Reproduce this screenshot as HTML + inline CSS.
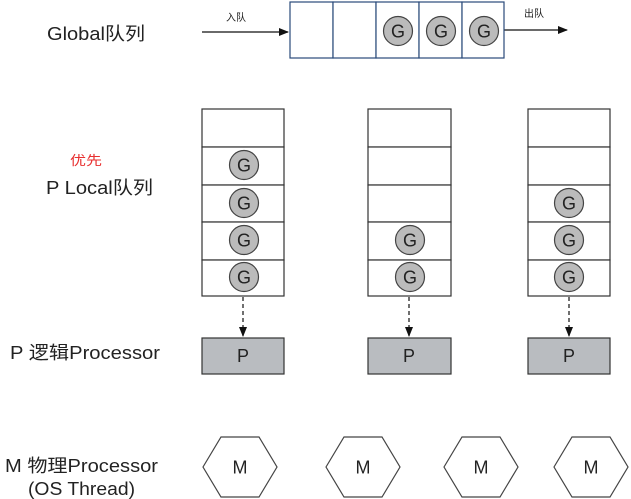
<!DOCTYPE html>
<html><head><meta charset="utf-8"><style>
html,body{margin:0;padding:0;background:#fff;width:631px;height:499px;overflow:hidden}
text{font-family:"Liberation Sans","Noto Sans CJK SC",sans-serif;fill:#222}
</style></head><body>
<svg width="631" height="499" xmlns="http://www.w3.org/2000/svg">
<defs>
<marker id="a" markerWidth="10" markerHeight="8" refX="9" refY="4" orient="auto" markerUnits="userSpaceOnUse"><path d="M0,0 L10,4 L0,8z" fill="#111"/></marker>
<g id="g"><circle r="14.5" fill="#bbb" stroke="#444" stroke-width="1.2"/><text y="6.5" text-anchor="middle" font-size="18" style="fill:#222">G</text></g>
<g id="h"><polygon points="-37,0 -19,-30 19,-30 37,0 19,30 -19,30" fill="#fff" stroke="#444" stroke-width="1.2"/><text y="6.5" text-anchor="middle" font-size="18">M</text></g>
</defs>
<text x="47" y="40" font-size="18" textLength="98" lengthAdjust="spacingAndGlyphs">Global队列</text>
<text x="70" y="165" font-size="13" style="fill:#e83030" textLength="32" lengthAdjust="spacingAndGlyphs">优先</text>
<text x="46" y="194" font-size="18" textLength="107" lengthAdjust="spacingAndGlyphs">P Local队列</text>
<text x="10" y="359" font-size="18" textLength="150" lengthAdjust="spacingAndGlyphs">P 逻辑Processor</text>
<text x="5" y="472" font-size="18" textLength="153" lengthAdjust="spacingAndGlyphs">M 物理Processor</text>
<text x="28" y="495" font-size="18" textLength="107" lengthAdjust="spacingAndGlyphs">(OS Thread)</text>

<text x="226" y="21" font-size="10">入队</text>
<text x="524" y="17" font-size="10">出队</text>
<line x1="202" y1="32" x2="288" y2="32" stroke="#111" stroke-width="1.2" marker-end="url(#a)"/>
<line x1="504" y1="30" x2="567" y2="30" stroke="#111" stroke-width="1.2" marker-end="url(#a)"/>
<g fill="#fff" stroke="#2a4a7a" stroke-width="1.2">
<rect x="290" y="2" width="43" height="56"/><rect x="333" y="2" width="43" height="56"/><rect x="376" y="2" width="43" height="56"/><rect x="419" y="2" width="43" height="56"/><rect x="462" y="2" width="42" height="56"/>
</g>
<use href="#g" x="398" y="31"/><use href="#g" x="441" y="31"/><use href="#g" x="484" y="31"/>

<g fill="#fff" stroke="#333" stroke-width="1.2">
<rect x="202" y="109" width="82" height="38"/><rect x="202" y="147" width="82" height="38"/><rect x="202" y="185" width="82" height="37"/><rect x="202" y="222" width="82" height="38"/><rect x="202" y="260" width="82" height="36"/>
<rect x="368" y="109" width="83" height="38"/><rect x="368" y="147" width="83" height="38"/><rect x="368" y="185" width="83" height="37"/><rect x="368" y="222" width="83" height="38"/><rect x="368" y="260" width="83" height="36"/>
<rect x="528" y="109" width="82" height="38"/><rect x="528" y="147" width="82" height="38"/><rect x="528" y="185" width="82" height="37"/><rect x="528" y="222" width="82" height="38"/><rect x="528" y="260" width="82" height="36"/>
</g>
<use href="#g" x="244" y="165"/><use href="#g" x="244" y="203"/><use href="#g" x="244" y="240"/><use href="#g" x="244" y="277"/>
<use href="#g" x="410" y="240"/><use href="#g" x="410" y="277"/>
<use href="#g" x="569" y="203"/><use href="#g" x="569" y="240"/><use href="#g" x="569" y="277"/>

<g stroke="#111" stroke-width="1.2" stroke-dasharray="4,3">
<line x1="243" y1="297" x2="243" y2="336" marker-end="url(#a)"/>
<line x1="409" y1="297" x2="409" y2="336" marker-end="url(#a)"/>
<line x1="569" y1="297" x2="569" y2="336" marker-end="url(#a)"/>
</g>
<g fill="#b9bcc0" stroke="#333" stroke-width="1.2">
<rect x="202" y="338" width="82" height="36"/><rect x="368" y="338" width="83" height="36"/><rect x="528" y="338" width="82" height="36"/>
</g>
<text x="243" y="362" text-anchor="middle" font-size="18">P</text>
<text x="409" y="362" text-anchor="middle" font-size="18">P</text>
<text x="569" y="362" text-anchor="middle" font-size="18">P</text>

<use href="#h" x="240" y="467"/><use href="#h" x="363" y="467"/><use href="#h" x="481" y="467"/><use href="#h" x="591" y="467"/>
</svg>
</body></html>
